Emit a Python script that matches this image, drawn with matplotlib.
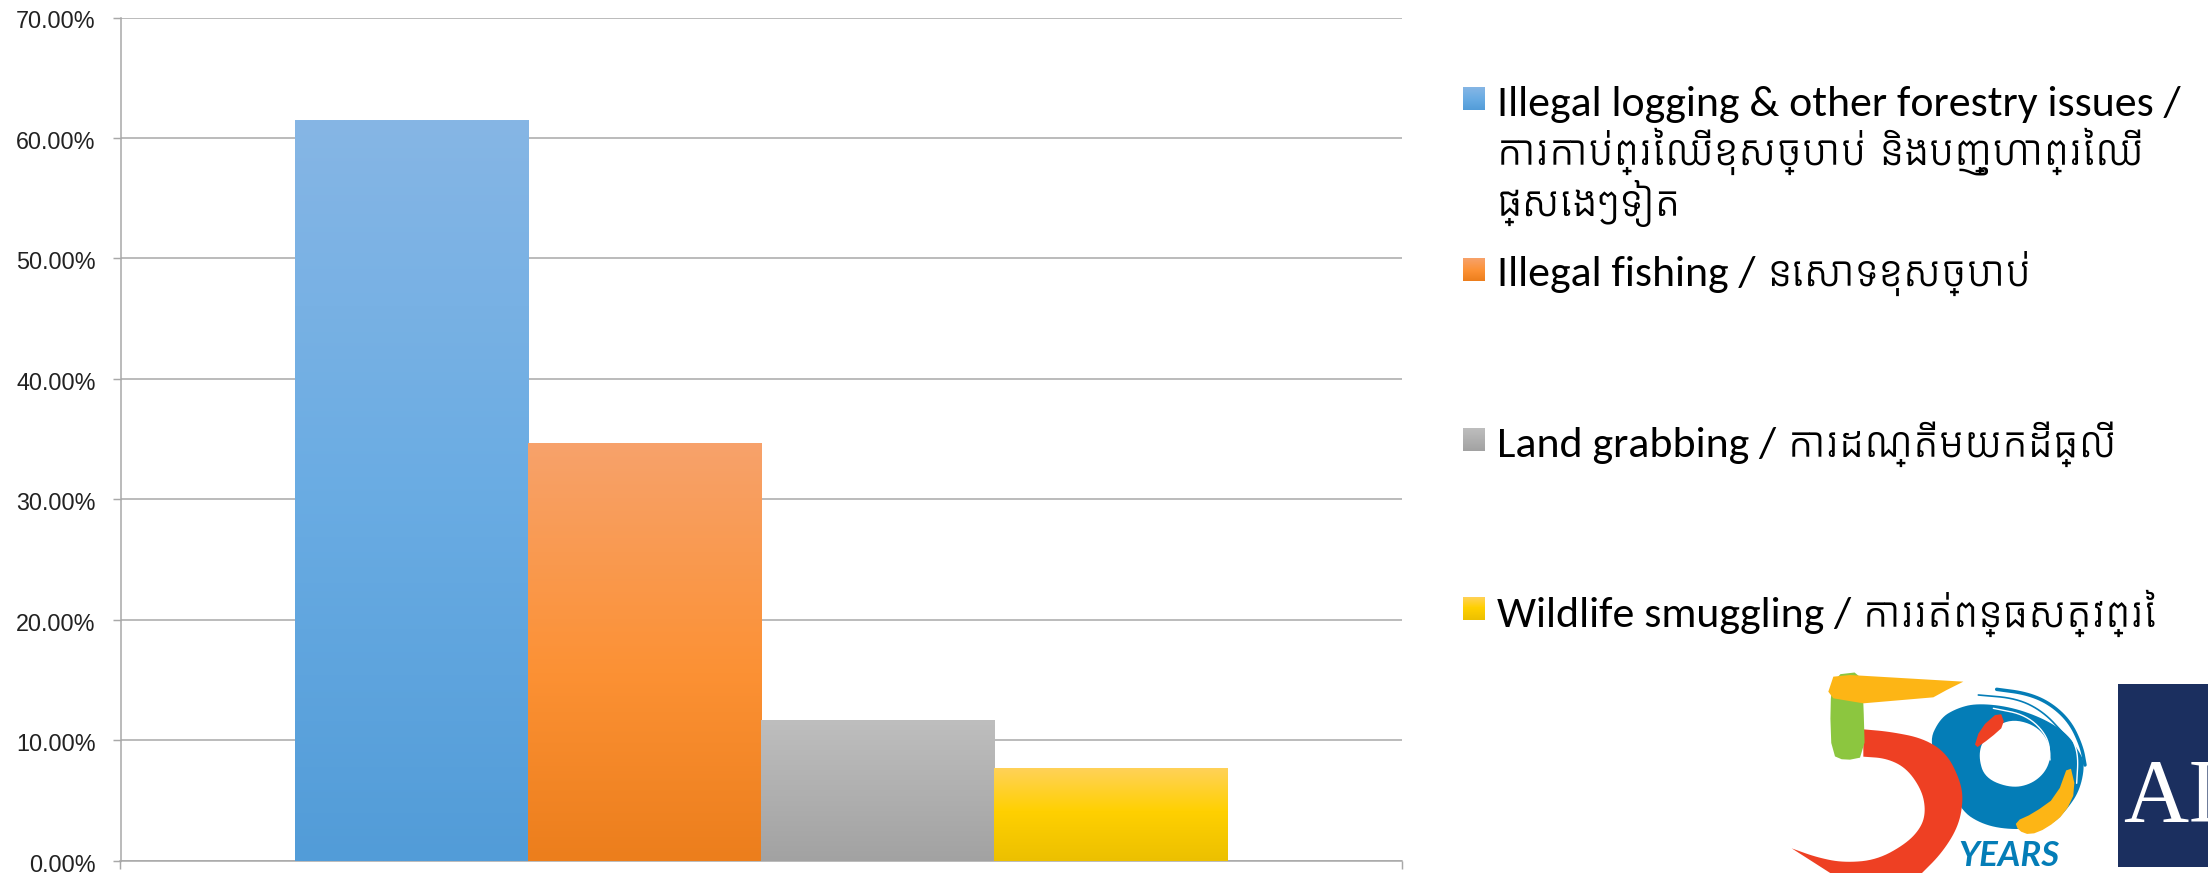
import numpy as np
import matplotlib
matplotlib.use("Agg")
import matplotlib.pyplot as plt
import logging
from matplotlib.colors import LinearSegmentedColormap
from matplotlib.patches import Polygon, Rectangle, PathPatch
from matplotlib.path import Path
from matplotlib.transforms import ScaledTranslation
logging.getLogger("matplotlib.font_manager").setLevel(logging.ERROR)

# ---- data ----
categories = ["Illegal logging & other forestry issues", "Illegal fishing",
              "Land grabbing", "Wildlife smuggling"]
values = [61.5, 34.7, 11.7, 7.7]
y_ticks = [0, 10, 20, 30, 40, 50, 60, 70]
y_tick_labels = ["0.00%", "10.00%", "20.00%", "30.00%", "40.00%", "50.00%", "60.00%", "70.00%"]
legend_latin = [["Illegal logging & other forestry issues /", "", ""],
                ["Illegal fishing /"], ["Land grabbing /"], ["Wildlife smuggling /"]]
legend_khmer = [["", "ការកាប់ព្រៃឈើខុសច្បាប់ និងបញ្ហាព្រៃឈើ", "ផ្សេងៗទៀត"],
                ["នេសាទខុសច្បាប់"], ["ការដណ្តើមយកដីធ្លី"], ["ការរត់ពន្ធសត្វព្រៃ"]]
gradients = [
    [(0.0, "#86B6E5"), (0.5, "#6AACE3"), (1.0, "#529CD8")],
    [(0.0, "#F7A26B"), (0.55, "#FC9134"), (1.0, "#EC7E1C")],
    [(0.0, "#BEBEBE"), (1.0, "#A2A2A2")],
    [(0.0, "#FFD258"), (0.47, "#FFD000"), (1.0, "#ECC000")],
]

W, H = 2208, 873
GRID = "#A8A8A8"
fig = plt.figure(figsize=(W / 100, H / 100), dpi=100, facecolor="white")
ax = fig.add_axes([120.5 / W, 1 - 860.5 / H, (1402 - 120.5) / W, (860.5 - 17.5) / H])

grad = np.linspace(0, 1, 256).reshape(-1, 1)
cmaps = [LinearSegmentedColormap.from_list(f"g{i}", g) for i, g in enumerate(gradients)]

x = np.arange(len(values))
bars = ax.bar(x, values, width=1.0, color=[g[1][1] for g in gradients], linewidth=0, zorder=2)
for b, cm in zip(bars, cmaps):
    im = ax.imshow(grad, cmap=cm, aspect="auto", zorder=3, interpolation="bilinear",
                   extent=(b.get_x(), b.get_x() + b.get_width(), 0, b.get_height()))
    im.set_clip_path(b)

xlim = (-1.248, 4.248)
ax.set_xlim(xlim)
ax.set_ylim(0, 70)
ax.set_yticks(y_ticks)
ax.set_yticklabels(y_tick_labels, family="Liberation Sans", fontsize=16.8, color="#222222")
ax.set_xticks(xlim)
ax.set_xticklabels(["", ""])
ax.tick_params(axis="both", length=5.8, width=1.05, color=GRID)
ax.tick_params(axis="y", pad=12)
ax.grid(axis="y", color=GRID, linewidth=1.1, zorder=1)
ax.set_axisbelow(True)
for s in ("top", "right"):
    ax.spines[s].set_visible(False)
for s in ("left", "bottom"):
    ax.spines[s].set_color(GRID)
    ax.spines[s].set_linewidth(1.1)
off = ScaledTranslation(0, -2 / 100, fig.dpi_scale_trans)
for lab in ax.get_yticklabels():
    lab.set_transform(lab.get_transform() + off)

# overlay in pixel coordinates for the legend and the logos
ov = fig.add_axes([0, 0, 1, 1], facecolor="none")
ov.set_xlim(0, W)
ov.set_ylim(H, 0)
ov.axis("off")

latin_fam = ["Carlito", "Lato", "DejaVu Sans"]
khmer_fam = ["Kantumruy Pro", "Noto Sans Khmer", "DejaVu Sans"]
FS_LATIN, FS_KHMER = 31.6, 29.5
swatch_y = [87, 258, 428, 597]
baselines = [[116, 165, 216], [286], [457], [627]]
renderer = fig.canvas.get_renderer()
for lat, khm, ys, sy, cm in zip(legend_latin, legend_khmer, baselines, swatch_y, cmaps):
    ov.imshow(grad, cmap=cm, aspect="auto", extent=(1463, 1485, sy + 23, sy), interpolation="bilinear")
    for la, kh, yy in zip(lat, khm, ys):
        xx = 1497
        if la:
            t = ov.text(xx, yy, la, family=latin_fam, fontsize=FS_LATIN, color="black", va="baseline", ha="left")
            xx = t.get_window_extent(renderer).x1 + 12
        if kh:
            ov.text(xx, yy, kh, family=khmer_fam, fontsize=FS_KHMER, color="black", va="baseline", ha="left")

# logo, traced in zoom coordinates
def P(pts):
    a = np.array(pts, dtype=float)
    return np.c_[1750 + a[:, 0] / 3, 640 + a[:, 1] / 3]

def smooth(a, n=3, closed=True):
    for _ in range(n):
        b = np.roll(a, -1, axis=0) if closed else a[1:]
        s = a if closed else a[:-1]
        q = 0.75 * s + 0.25 * b
        r = 0.25 * s + 0.75 * b
        m = np.empty((2 * len(s), 2))
        m[0::2], m[1::2] = q, r
        a = m if closed else np.r_[a[:1], m, a[-1:]]
    return a

GREEN, AMBER, RED, BLUE = "#8CC63F", "#FDB515", "#EE4023", "#047DB7"
blue_outer = smooth(P([(535, 310), (570, 235), (620, 205), (680, 190), (780, 200), (880, 235),
                       (950, 280), (985, 330), (1005, 370), (990, 450), (950, 510), (900, 560),
                       (790, 570), (700, 555), (630, 510), (590, 400)]))
blue_hole = smooth(P([(685, 350), (700, 295), (770, 235), (860, 255), (905, 320), (895, 385),
                      (850, 430), (785, 445), (705, 415)]))
verts = np.r_[blue_outer, blue_outer[:1], blue_hole[::-1], blue_hole[-1:]]
codes = ([Path.MOVETO] + [Path.LINETO] * (len(blue_outer) - 1) + [Path.CLOSEPOLY]
         + [Path.MOVETO] + [Path.LINETO] * (len(blue_hole) - 1) + [Path.CLOSEPOLY])
ov.add_patch(PathPatch(Path(verts, codes), fc=BLUE, ec="none"))
for pts, lw, col in [
    ([(740, 148), (830, 160), (900, 190), (960, 245), (995, 320), (1005, 375)], 2.5, BLUE),
    ([(685, 165), (800, 175), (880, 215), (945, 285)], 1.2, BLUE),
    ([(730, 205), (830, 225), (895, 290), (900, 360)], 1.0, "white"),
    ([(965, 290), (985, 345), (980, 430)], 1.0, "white"),
]:
    a = smooth(P(pts), closed=False)
    ov.plot(a[:, 0], a[:, 1], color=col, lw=lw, solid_capstyle="round")
ov.add_patch(Polygon(smooth(P([(670, 330), (690, 265), (750, 212), (765, 255), (720, 295)]), 1), fc=RED, ec="none"))
ov.add_patch(Polygon(smooth(P([(795, 545), (850, 520), (920, 470), (958, 365), (978, 450), (945, 520),
                               (890, 565), (840, 585), (805, 572)]), 1), fc=AMBER, ec="none"))
red_outer = smooth(P([(340, 268), (420, 275), (520, 295), (590, 340), (630, 420), (640, 480),
                      (625, 560), (575, 640), (510, 705)]), closed=False)
red_inner = smooth(P([(125, 625), (200, 652), (280, 668), (380, 660), (470, 610), (515, 560),
                      (527, 510), (515, 450), (470, 385), (410, 355), (340, 350)]), closed=False)
ov.add_patch(Polygon(np.r_[red_outer, P([(250, 705)]), red_inner], fc=RED, ec="none"))
ov.add_patch(Polygon(smooth(P([(250, 105), (335, 95), (340, 180), (345, 350), (285, 362), (245, 345),
                               (240, 200)]), 1), fc=GREEN, ec="none"))
ov.add_patch(Polygon(P([(235, 155), (250, 110), (300, 105), (640, 125), (590, 150), (550, 172),
                        (340, 190), (250, 175)]), fc=AMBER, ec="none"))
ov.text(1750 + 625 / 3, 640 + 678 / 3, "YEARS", family="Lato", style="italic", weight="bold",
        fontsize=25, color=BLUE, va="baseline", ha="left")

ov.add_patch(Rectangle((2118, 684), 90, 183, fc="#1B2F5F", ec="none"))
ov.text(2123, 822, "AI", family="Liberation Serif", fontsize=65, color="white", va="baseline", ha="left",
        clip_on=True)

fig.savefig("out.png", dpi=100)
